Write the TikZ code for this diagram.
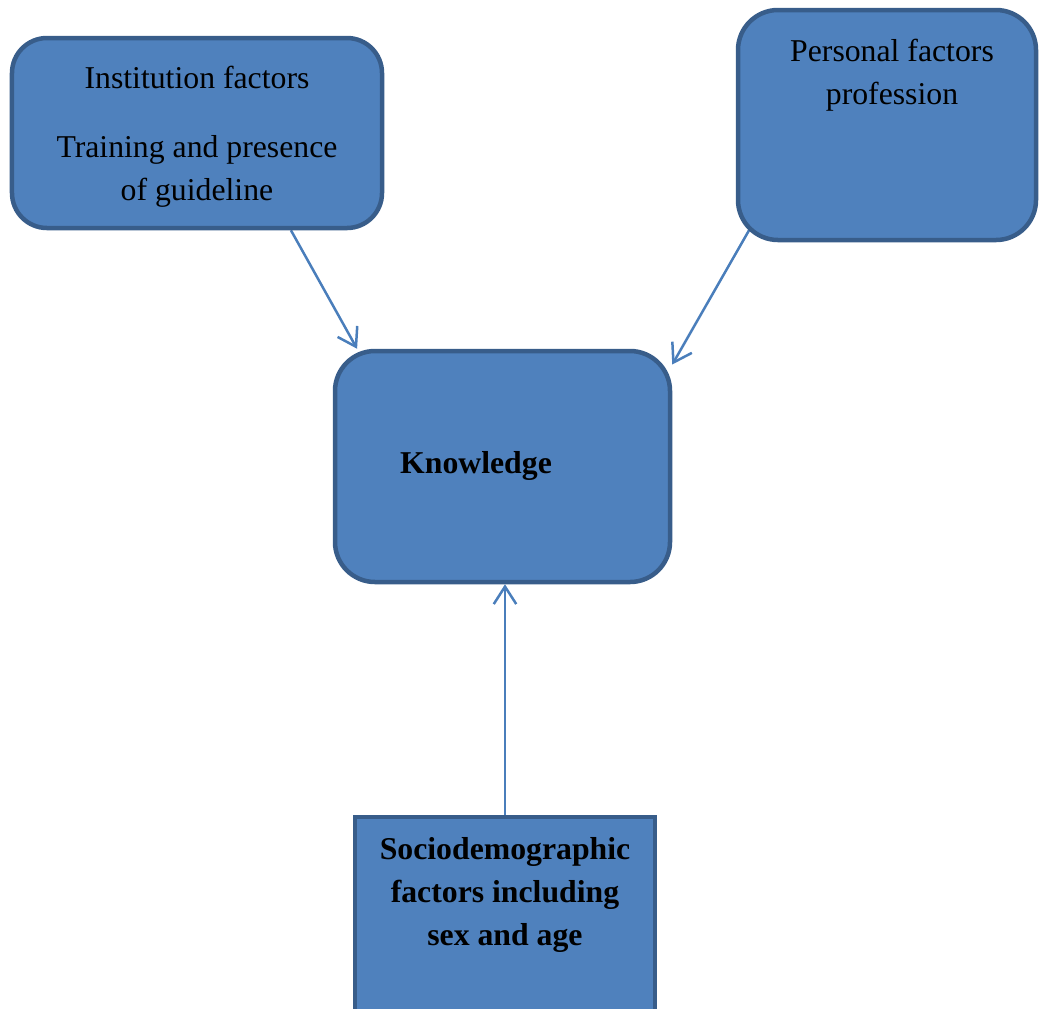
\documentclass[tikz,border=0pt]{standalone}
\usepackage{fontspec}
\setmainfont{Liberation Serif}
\usetikzlibrary{arrows.meta,backgrounds}
\definecolor{boxfill}{HTML}{4F81BD}
\definecolor{boxline}{HTML}{385D8A}
\definecolor{arrowblue}{HTML}{4A7EBB}

\begin{document}
\begin{tikzpicture}[x=0.4pt,y=-0.4pt]
        \tikzstyle{every node}+=[font=\fontsize{12.7}{17.2}\selectfont,align=center]
        \tikzstyle{factor}=[draw=boxline,fill=boxfill,line width=1.8pt,inner sep=0pt]
        \tikzstyle{link}=[draw=arrowblue,line width=1pt,-{Straight Barb[length=7pt,width=9pt]}]
        \useasboundingbox (0,0) rectangle (1039,1008);
        % boxes
        \node (inst) [factor,rounded corners=14pt,minimum width=148pt,minimum height=76pt] at (197,133) {};
        \node (insttxt) at (197,136.5) {Institution factors\\[10.4pt]Training and presence\\of guideline};
        \node (pers) [factor,rounded corners=16pt,minimum width=119.2pt,minimum height=92pt] at (887,125) {};
        \node (perstxt) at (892,75.5) {Personal factors\\profession};
        \node (know) [factor,rounded corners=16pt,minimum width=134pt,minimum height=92.4pt] at (502.5,466.5) {};
        \node (knowtxt) at (476,465.5) {\bfseries Knowledge};
        \node (socio) [factor,minimum width=120pt,minimum height=85pt] at (505,923) {};
        \node (sociotxt) at (505,894.5) {\bfseries Sociodemographic\\\bfseries factors including\\\bfseries sex and age};
        % arrows
        \begin{scope}[on background layer]
        \draw [link] (inst.-46) -- (know.141);
        \draw [link,shorten <=-15pt] (pers.219.6) -- (know.31);
        \draw [link] (socio.north) -- (socio.north |- know.south);
        \end{scope}
\end{tikzpicture}
\end{document}
